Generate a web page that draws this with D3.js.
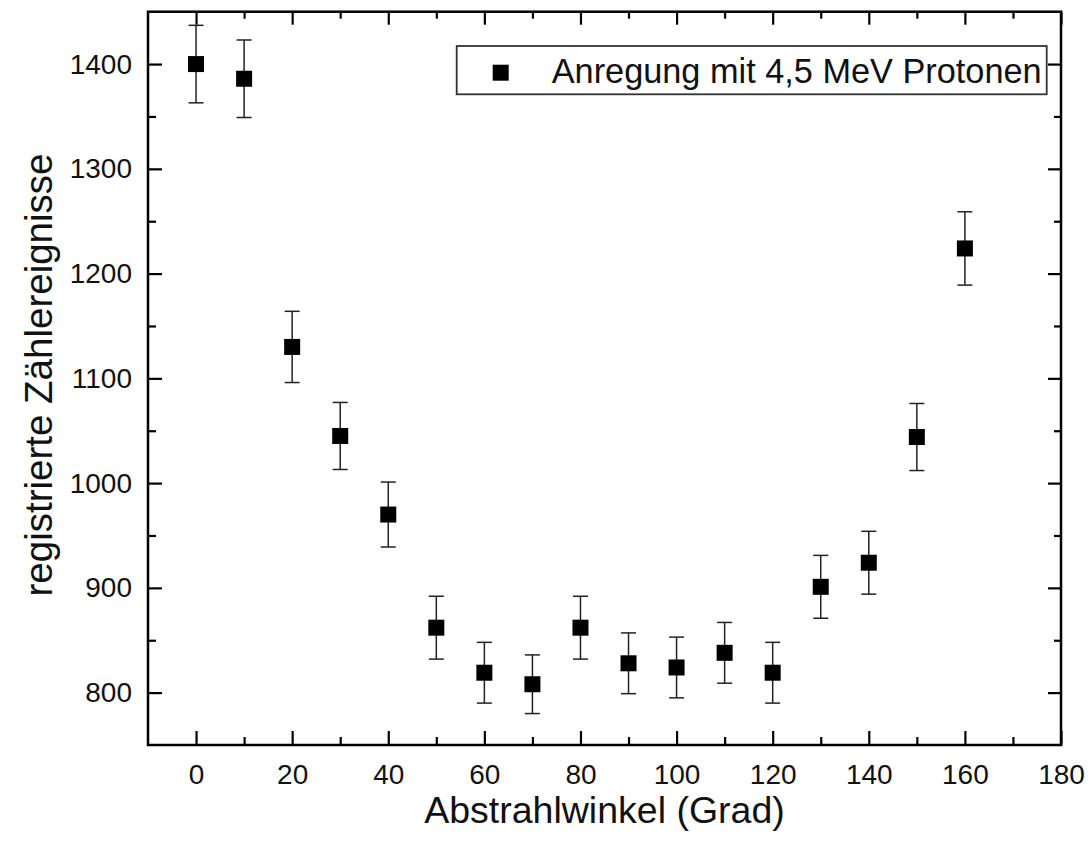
<!DOCTYPE html>
<html>
<head>
<meta charset="utf-8">
<script src="https://cdn.jsdelivr.net/npm/d3@7"></script>
<style>
  body { margin: 0; background: #fff; }
  svg { display: block; font-family: "Liberation Sans", Arial, sans-serif; }
</style>
</head>
<body>
<div id="chart"></div>
<script>
// data
const angles = [0, 10, 20, 30, 40, 50, 60, 70, 80, 90, 100, 110, 120, 130, 140, 150, 160]
const counts = [1400, 1386, 1130, 1045, 970, 862, 819, 808, 862, 828, 824, 838, 819, 901, 924, 1044, 1224]
const errors = [37, 37, 34, 32, 31, 30, 29, 28, 30, 29, 29, 29, 29, 30, 30, 32, 35]

const xMajor = [0, 20, 40, 60, 80, 100, 120, 140, 160, 180]
const xMinor = [10, 30, 50, 70, 90, 110, 130, 150, 170]
const yMajor = [800, 900, 1000, 1100, 1200, 1300, 1400]
const yMinor = [850, 950, 1050, 1150, 1250, 1350]

const legendLabel = "Anregung mit 4,5 MeV Protonen"
const xTitle = "Abstrahlwinkel (Grad)"
const yTitle = "registrierte Zählereignisse"

const W = 1090, H = 851
const plot = { left: 148, right: 1061, top: 11.7, bottom: 745 }

const svg = d3.select("#chart").append("svg")
    .attr("width", W)
    .attr("height", H)

svg.append("rect").attr("width", W).attr("height", H).attr("fill", "#fff")

const x = d3.scaleLinear().domain([-10, 180]).range([plot.left, plot.right])
const y = d3.scaleLinear().domain([750, 1450]).range([plot.bottom, plot.top])

const data = angles.map((a, i) => ({ angle: a, count: counts[i], err: errors[i] }))

// axes, ticks pointing inward on all four sides
function drawAxis(axis, transform, values, size, labels) {
    const g = svg.append("g")
        .attr("transform", transform)
        .call(axis.tickValues(values).tickSize(-size).tickFormat(labels ? d3.format("d") : ""))
    g.select(".domain").remove()
    g.selectAll(".tick line").attr("stroke", "#000").attr("stroke-width", 2.2)
    g.selectAll(".tick text").attr("fill", "#111").style("font-size", "28px")
    return g
}

drawAxis(d3.axisBottom(x).tickPadding(19), `translate(0,${plot.bottom})`, xMajor, 14, true)
drawAxis(d3.axisBottom(x), `translate(0,${plot.bottom})`, xMinor, 8, false)
drawAxis(d3.axisTop(x), `translate(0,${plot.top})`, xMajor, 13, false)
drawAxis(d3.axisTop(x), `translate(0,${plot.top})`, xMinor, 7, false)
drawAxis(d3.axisLeft(y).tickPadding(16), `translate(${plot.left},0)`, yMajor, 14, true)
drawAxis(d3.axisLeft(y), `translate(${plot.left},0)`, yMinor, 8, false)
drawAxis(d3.axisRight(y), `translate(${plot.right},0)`, yMajor, 13, false)
drawAxis(d3.axisRight(y), `translate(${plot.right},0)`, yMinor, 7, false)

// frame
svg.append("rect")
    .attr("x", plot.left).attr("y", plot.top)
    .attr("width", plot.right - plot.left).attr("height", plot.bottom - plot.top)
    .attr("fill", "none")
    .attr("stroke", "#000")
    .attr("stroke-width", 2.5)

// error bars
const capW = 15
const eb = svg.append("g")
    .attr("stroke", "#222")
    .attr("stroke-width", 1.5)
    .selectAll("g")
    .data(data)
    .enter().append("g")

eb.append("line")
    .attr("x1", d => x(d.angle)).attr("x2", d => x(d.angle))
    .attr("y1", d => y(d.count - d.err)).attr("y2", d => y(d.count + d.err))
eb.append("line")
    .attr("x1", d => x(d.angle) - capW / 2).attr("x2", d => x(d.angle) + capW / 2)
    .attr("y1", d => y(d.count + d.err)).attr("y2", d => y(d.count + d.err))
eb.append("line")
    .attr("x1", d => x(d.angle) - capW / 2).attr("x2", d => x(d.angle) + capW / 2)
    .attr("y1", d => y(d.count - d.err)).attr("y2", d => y(d.count - d.err))

// square markers
const sq = 16
svg.append("g")
    .selectAll("rect")
    .data(data)
    .enter().append("rect")
    .attr("x", d => x(d.angle) - sq / 2)
    .attr("y", d => y(d.count) - sq / 2)
    .attr("width", sq)
    .attr("height", sq)
    .attr("fill", "#000")

// legend
const lg = svg.append("g")
lg.append("rect")
    .attr("x", 456.7).attr("y", 46)
    .attr("width", 590).attr("height", 48.3)
    .attr("fill", "#fff")
    .attr("stroke", "#333")
    .attr("stroke-width", 1.8)
lg.append("rect")
    .attr("x", 500.7 - 8).attr("y", 72.7 - 8)
    .attr("width", 16).attr("height", 16)
    .attr("fill", "#000")
lg.append("text")
    .attr("x", 551.7).attr("y", 82.5)
    .attr("fill", "#111")
    .style("font-size", "34.3px")
    .text(legendLabel)

// axis titles
svg.append("text")
    .attr("x", (plot.left + plot.right) / 2).attr("y", 823)
    .attr("text-anchor", "middle")
    .attr("fill", "#111")
    .style("font-size", "37.5px")
    .text(xTitle)

svg.append("text")
    .attr("transform", `translate(52,375) rotate(-90)`)
    .attr("text-anchor", "middle")
    .attr("fill", "#111")
    .style("font-size", "38.5px")
    .text(yTitle)
</script>
</body>
</html>
